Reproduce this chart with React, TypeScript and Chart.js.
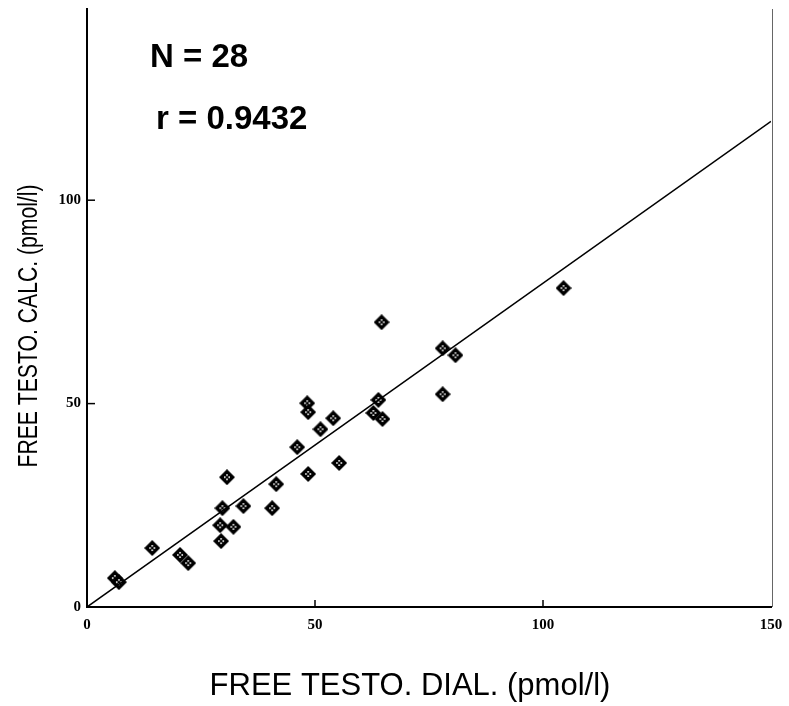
import React, { useEffect, useRef } from "react";
import { Chart, registerables } from "chart.js";
Chart.register(...registerables);

// Free testosterone, dialysis (x) vs calculated (y), pmol/l
const dialValues = [104.5, 78.0, 80.8, 78.0, 64.6, 63.9, 62.8, 64.8, 48.3, 48.5, 54.0, 51.2, 46.1, 55.3, 48.5, 41.5, 30.7, 34.3, 40.6, 29.7, 29.2, 32.1, 29.4, 14.3, 20.4, 22.2, 6.1, 7.0];
const calcValues = [78.4, 63.6, 61.9, 52.3, 70.0, 50.9, 47.7, 46.2, 50.1, 47.9, 46.4, 43.7, 39.3, 35.4, 32.7, 30.2, 31.9, 24.8, 24.3, 24.3, 20.1, 19.7, 16.2, 14.5, 12.8, 10.8, 7.1, 6.1];
const fitLineX = [0, 150];
const fitLineY = [0, 119.4];
const xTicks = [0, 50, 100, 150];
const yTicks = [0, 50, 100];
const innerTicksX = [50, 100];
const innerTicksY = [50, 100];
const statN = "N = 28";
const statR = "r = 0.9432";
const xTitle = "FREE TESTO. DIAL. (pmol/l)";
const yTitle = "FREE TESTO. CALC. (pmol/l)";

function makeMarker(): HTMLCanvasElement {
  const c = document.createElement("canvas");
  const s = 16;
  c.width = s;
  c.height = s;
  const g = c.getContext("2d")!;
  g.fillStyle = "#000";
  g.beginPath();
  g.moveTo(s / 2, 0);
  g.lineTo(s, s / 2);
  g.lineTo(s / 2, s);
  g.lineTo(0, s / 2);
  g.closePath();
  g.fill();
  g.fillStyle = "#fff";
  g.fillRect(5, 7.2, 1.6, 1.6);
  g.fillRect(9.4, 7.2, 1.6, 1.6);
  g.fillRect(7.2, 5, 1.6, 1.6);
  g.fillRect(7.2, 9.4, 1.6, 1.6);
  return c;
}

const decorPlugin = {
  id: "decor",
  afterDraw(chart: any) {
    const ctx = chart.ctx as CanvasRenderingContext2D;
    const xs = chart.scales.x;
    const ys = chart.scales.y;
    const area = chart.chartArea;
    ctx.save();
    ctx.strokeStyle = "#000";
    ctx.lineWidth = 1.5;
    // inward ticks
    innerTicksX.forEach((v) => {
      const px = xs.getPixelForValue(v);
      ctx.beginPath();
      ctx.moveTo(px, area.bottom);
      ctx.lineTo(px, area.bottom - 7);
      ctx.stroke();
    });
    innerTicksY.forEach((v) => {
      const py = ys.getPixelForValue(v);
      ctx.beginPath();
      ctx.moveTo(area.left, py);
      ctx.lineTo(area.left + 8, py);
      ctx.stroke();
    });
    // right border
    ctx.strokeStyle = "#666";
    ctx.lineWidth = 1;
    ctx.beginPath();
    ctx.moveTo(area.right + 1.5, area.top);
    ctx.lineTo(area.right + 1.5, area.bottom);
    ctx.stroke();
    // annotations
    ctx.fillStyle = "#000";
    ctx.textAlign = "left";
    ctx.textBaseline = "alphabetic";
    ctx.font = "bold 33px 'Liberation Sans', Arial, sans-serif";
    ctx.fillText(statN, 150, 67);
    ctx.fillText(statR, 156, 129);
    // axis titles
    ctx.font = "31px 'Liberation Sans', Arial, sans-serif";
    ctx.textAlign = "center";
    ctx.textBaseline = "middle";
    ctx.fillText(xTitle, 410, 686);
    ctx.save();
    ctx.font = "28px 'Liberation Sans', Arial, sans-serif";
    const w = ctx.measureText(yTitle).width;
    ctx.translate(29, 326);
    ctx.rotate(-Math.PI / 2);
    ctx.scale(283 / w, 1);
    ctx.fillText(yTitle, 0, 0);
    ctx.restore();
    ctx.restore();
  },
};

export default function App() {
  const ref = useRef<HTMLCanvasElement>(null);
  useEffect(() => {
    document.body.style.margin = "0";
    const marker = makeMarker();
    const points = dialValues.map((x, i) => ({ x, y: calcValues[i] }));
    const line = fitLineX.map((x, i) => ({ x, y: fitLineY[i] }));
    const tickFont = { family: "'Liberation Serif', 'Times New Roman', serif", size: 15, weight: "bold" as const };
    const chart = new Chart(ref.current!, {
      type: "scatter",
      data: {
        datasets: [
          {
            type: "line",
            data: line,
            borderColor: "#000",
            borderWidth: 1.5,
            pointRadius: 0,
            fill: false,
          } as any,
          {
            data: points,
            pointStyle: marker as any,
            pointRadius: 8,
            backgroundColor: "#000",
            borderColor: "#000",
          },
        ],
      },
      options: {
        animation: false,
        responsive: false,
        maintainAspectRatio: false,
        layout: { padding: { left: 0, right: 18, top: 8, bottom: 0 } },
        plugins: { legend: { display: false }, tooltip: { enabled: false } },
        scales: {
          x: {
            type: "linear",
            min: 0,
            max: 150,
            afterFit: (s: any) => {
              s.height = 99;
              s.paddingLeft = 0;
              s.paddingRight = 0;
            },
            afterBuildTicks: (s: any) => {
              s.ticks = xTicks.map((v) => ({ value: v }));
            },
            grid: { display: false, drawTicks: false },
            border: { display: true, color: "#000", width: 2 },
            ticks: { color: "#000", font: tickFont, padding: 9 },
          },
          y: {
            type: "linear",
            min: 0,
            max: 147,
            afterFit: (s: any) => {
              s.width = 87;
              s.paddingTop = 0;
              s.paddingBottom = 0;
            },
            afterBuildTicks: (s: any) => {
              s.ticks = yTicks.map((v) => ({ value: v }));
            },
            grid: { display: false, drawTicks: false },
            border: { display: true, color: "#000", width: 2 },
            ticks: { color: "#000", font: tickFont, padding: 6 },
          },
        },
      },
      plugins: [decorPlugin],
    });
    return () => chart.destroy();
  }, []);
  return (
    <div style={{ width: 789, height: 706, background: "#fff" }}>
      <canvas ref={ref} width={789} height={706} style={{ display: "block" }} />
    </div>
  );
}
